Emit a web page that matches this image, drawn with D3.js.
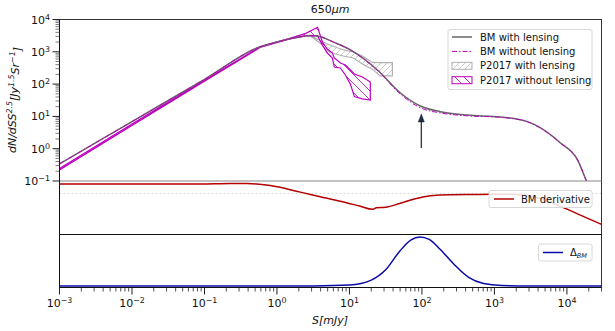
<!DOCTYPE html>
<html>
<head>
<meta charset="utf-8">
<script src="https://cdn.jsdelivr.net/npm/d3@7/dist/d3.min.js"></script>
<style>
body { margin:0; background:#fff; }
text { font-family: "DejaVu Sans", sans-serif; fill:#111; }
</style>
</head>
<body>
<div id="chart"></div>
<script>
// BM model curves (S in mJy)
var bmS      = [0.001, 0.01, 0.1, 0.59, 1.0, 1.91, 2.88, 3.96, 6.0, 10.3, 24.3, 50.5, 95, 180, 424, 1210, 2860, 4320, 8150, 14000, 18600, 25000];
var bmLens   = [0.34, 6.9, 140, 1440, 2000, 2810, 3200, 2930, 2000, 1140, 273, 53, 21, 14, 11, 9.6, 6.9, 4.4, 1.5, 0.45, 0.1, 0.02];
var bmNoLens = [0.34, 6.9, 140, 1440, 2000, 2810, 3200, 2930, 2000, 1140, 265, 49, 18.5, 12.8, 10.4, 9.4, 6.8, 4.4, 1.5, 0.45, 0.1, 0.02];

// P2017 bands
var pS   = [0.001, 0.01, 0.1, 0.6, 1.5, 2.5, 3.64, 4.23, 4.95, 5.81, 6.19, 7.49, 8.79, 10.3, 11.7, 15.1, 19.4];
var pLo  = [0.22, 5.2, 122, 1400, 2500, 3090, 3090, 1620, 918, 643, 339, 316, 191, 100, 41, 35, 32];
var pHi  = [0.245, 5.8, 135, 1450, 2600, 3720, 5740, 2010, 1220, 918, 643, 450, 390, 273, 206, 166, 116];
var gS   = [3.0, 4.09, 4.95, 6.38, 8.24, 11.3, 15.1, 20.7, 26.5, 39.1];
var gLo  = [2900, 1740, 1060, 855, 741, 643, 419, 290, 180, 180];
var gHi  = [3000, 2160, 1740, 1410, 1140, 986, 741, 470, 460, 460];

// derivative panel
var derS = [0.001, 0.0875, 0.227, 0.39, 0.81, 2.1, 3.96, 7.48, 14.1, 20.7, 23.5, 31.3, 50.4, 81, 131, 247, 640, 1660, 3140, 6520, 14000, 30000];
var derV = [1.30, 1.30, 1.37, 1.36, 1.09, 0.18, -0.45, -1.08, -1.78, -2.20, -1.99, -1.92, -1.36, -0.73, -0.31, -0.17, -0.14, -0.10, -0.31, -1.36, -2.83, -4.29];

// Delta panel
var delS = [0.001, 1, 3.16, 10, 20, 31.6, 50, 70.8, 93, 126, 178, 282, 447, 708, 1260, 3160, 30000];
var delV = [0, 0, 0.003, 0.02, 0.12, 0.33, 0.72, 0.94, 1.0, 0.95, 0.75, 0.43, 0.17, 0.05, 0.01, 0.002, 0];

var arrowS = 98, arrowFrom = 1.05, arrowTo = 11.9;

var xTicks = [1e-3, 1e-2, 1e-1, 1, 10, 100, 1000, 10000];
var xTickExp = ["−3", "−2", "−1", "0", "1", "2", "3", "4"];
var yTicks = [1e-1, 1, 10, 100, 1000, 10000];
var yTickExp = ["−1", "0", "1", "2", "3", "4"];

var W = 615, H = 331;
var left = 59.5, right = 601.5;
var top1 = 19.5, bot1 = 181, bot2 = 234.5, bot3 = 287.5;

var x = d3.scaleLog().domain([1e-3, 3e4]).range([left, right]);
var y1 = d3.scaleLog().domain([0.1, 1e4]).range([bot1, top1]);
var y2 = d3.scaleLinear().domain([-5.69, 1.72]).range([bot2, bot1]);
var y3 = d3.scaleLinear().domain([-0.03, 1.05]).range([bot3, bot2]);

var svg = d3.select("#chart").append("svg")
	.attr("width", W)
	.attr("height", H);

var defs = svg.append("defs");
function clip(id, y0, y1_) {
	defs.append("clipPath").attr("id", id).append("rect")
		.attr("x", left).attr("y", y0).attr("width", right - left).attr("height", y1_ - y0);
}
clip("c1", top1, bot1);
clip("c2", bot1, bot2);
clip("c3", bot2, bot3);

// hatch patterns
var hg = defs.append("pattern").attr("id", "hatchGray").attr("patternUnits", "userSpaceOnUse")
	.attr("width", 6).attr("height", 6);
hg.append("path").attr("d", "M-1,1 l2,-2 M0,6 l6,-6 M5,7 l2,-2").attr("stroke", "#bdbdbd").attr("stroke-width", 0.8);
var hm = defs.append("pattern").attr("id", "hatchMag").attr("patternUnits", "userSpaceOnUse")
	.attr("width", 9).attr("height", 9);
hm.append("path").attr("d", "M-1,8 l2,2 M0,0 l9,9 M8,-1 l2,2").attr("stroke", "#b000b0").attr("stroke-width", 0.8);

var gray = "#666666", mag = "#bf00bf";

// ---- panel 1
var p1 = svg.append("g").attr("clip-path", "url(#c1)");

var band = function(S, lo, hi) {
	return d3.area()
		.x(function(d, i) { return x(S[i]); })
		.y0(function(d, i) { return y1(lo[i]); })
		.y1(function(d, i) { return y1(hi[i]); })(S);
};

p1.append("path").attr("d", band(gS, gLo, gHi))
	.attr("fill", "url(#hatchGray)").attr("stroke", "#b0b0b0").attr("stroke-width", 1.2);
p1.append("path").attr("d", band(pS, pLo, pHi))
	.attr("fill", "url(#hatchMag)").attr("stroke", mag).attr("stroke-width", 1.2);

var line1 = function(S, V) {
	return d3.line()
		.x(function(d, i) { return x(S[i]); })
		.y(function(d, i) { return y1(V[i]); })
		.curve(d3.curveMonotoneX)(S);
};
p1.append("path").attr("d", line1(bmS, bmLens))
	.attr("fill", "none").attr("stroke", gray).attr("stroke-width", 1.5);
p1.append("path").attr("d", line1(bmS, bmNoLens))
	.attr("fill", "none").attr("stroke", mag).attr("stroke-width", 1).attr("stroke-dasharray", "5,2,1.5,2");

// arrow
var ax = x(arrowS);
p1.append("line").attr("x1", ax).attr("x2", ax)
	.attr("y1", y1(arrowFrom)).attr("y2", y1(arrowTo) + 5)
	.attr("stroke", "#222").attr("stroke-width", 1.2);
p1.append("path")
	.attr("d", "M" + ax + "," + y1(arrowTo) + " l-3,8 l6,0 z")
	.attr("fill", "#1c2e4a").attr("stroke", "#222").attr("stroke-width", 0.5);

// ---- panel 2
var p2 = svg.append("g").attr("clip-path", "url(#c2)");
p2.append("line").attr("x1", left).attr("x2", right)
	.attr("y1", y2(0)).attr("y2", y2(0))
	.attr("stroke", "#ccc").attr("stroke-width", 0.8).attr("stroke-dasharray", "2,2");
p2.append("path")
	.attr("d", d3.line()
		.x(function(d, i) { return x(derS[i]); })
		.y(function(d, i) { return y2(derV[i]); })
		.curve(d3.curveMonotoneX)(derS))
	.attr("fill", "none").attr("stroke", "#b40000").attr("stroke-width", 1.5);

// ---- panel 3
var p3 = svg.append("g").attr("clip-path", "url(#c3)");
p3.append("path")
	.attr("d", d3.line()
		.x(function(d, i) { return x(delS[i]); })
		.y(function(d, i) { return y3(delV[i]); })
		.curve(d3.curveMonotoneX)(delS))
	.attr("fill", "none").attr("stroke", "#0a0aa8").attr("stroke-width", 1.5);

// ---- frames
svg.append("rect").attr("x", left).attr("y", top1).attr("width", right - left).attr("height", bot3 - top1)
	.attr("fill", "none").attr("stroke", "#333").attr("stroke-width", 1);
svg.append("line").attr("x1", left).attr("x2", right).attr("y1", bot1).attr("y2", bot1)
	.attr("stroke", "#888").attr("stroke-width", 1.2);
svg.append("line").attr("x1", left).attr("x2", right).attr("y1", bot2).attr("y2", bot2)
	.attr("stroke", "#111").attr("stroke-width", 1);
svg.append("line").attr("x1", left).attr("x2", left).attr("y1", top1).attr("y2", bot3)
	.attr("stroke", "#111").attr("stroke-width", 1);
svg.append("line").attr("x1", left).attr("x2", right).attr("y1", bot3).attr("y2", bot3)
	.attr("stroke", "#111").attr("stroke-width", 1);

function supText(g, base, exp) {
	g.append("tspan").text(base);
	g.append("tspan").attr("dy", "-0.5em").attr("font-size", "0.72em").text(exp);
}

// x axis ticks
var minorX = [];
for (var e = -3; e <= 4; e++) for (var k = 2; k <= 9; k++) {
	var v = k * Math.pow(10, e);
	if (v <= 3e4) minorX.push(v);
}
svg.selectAll(".xminor").data(minorX).enter().append("line")
	.attr("x1", function(d) { return x(d); }).attr("x2", function(d) { return x(d); })
	.attr("y1", bot3).attr("y2", bot3 + 4).attr("stroke", "#222").attr("stroke-width", 0.8);
svg.selectAll(".xmajor").data(xTicks).enter().append("line")
	.attr("x1", function(d) { return x(d); }).attr("x2", function(d) { return x(d); })
	.attr("y1", bot3).attr("y2", bot3 + 7).attr("stroke", "#222").attr("stroke-width", 1);
xTicks.forEach(function(t, i) {
	var tx = svg.append("text").attr("x", x(t)).attr("y", 307)
		.attr("text-anchor", "middle").attr("font-size", 11);
	supText(tx, "10", xTickExp[i]);
});

// y axis ticks (top panel)
var minorY = [];
for (var e2 = -1; e2 < 4; e2++) for (var k2 = 2; k2 <= 9; k2++) minorY.push(k2 * Math.pow(10, e2));
svg.selectAll(".yminor").data(minorY).enter().append("line")
	.attr("x1", left - 4).attr("x2", left)
	.attr("y1", function(d) { return y1(d); }).attr("y2", function(d) { return y1(d); })
	.attr("stroke", "#444").attr("stroke-width", 0.7);
svg.selectAll(".ymajor").data(yTicks).enter().append("line")
	.attr("x1", left - 7).attr("x2", left)
	.attr("y1", function(d) { return y1(d); }).attr("y2", function(d) { return y1(d); })
	.attr("stroke", "#222").attr("stroke-width", 1);
yTicks.forEach(function(t, i) {
	var ty = svg.append("text").attr("x", 50).attr("y", y1(t) + 4)
		.attr("text-anchor", "end").attr("font-size", 11);
	supText(ty, "10", yTickExp[i]);
});

// labels
var title = svg.append("text").attr("x", 330).attr("y", 13).attr("text-anchor", "middle").attr("font-size", 11);
title.append("tspan").text("650");
title.append("tspan").attr("font-style", "italic").text("μm");

var xl = svg.append("text").attr("x", 330).attr("y", 324).attr("text-anchor", "middle")
	.attr("font-size", 11).attr("font-style", "italic");
xl.append("tspan").text("S[mJy]");

var yl = svg.append("text").attr("transform", "translate(16,100) rotate(-90)")
	.attr("text-anchor", "middle").attr("font-size", 11).attr("font-style", "italic");
yl.append("tspan").text("dN/dSS");
yl.append("tspan").attr("dy", "-0.5em").attr("font-size", "0.72em").text("2.5");
yl.append("tspan").attr("dy", "0.5em").text("[Jy");
yl.append("tspan").attr("dy", "-0.5em").attr("font-size", "0.72em").text("1.5");
yl.append("tspan").attr("dy", "0.5em").text("Sr");
yl.append("tspan").attr("dy", "-0.5em").attr("font-size", "0.72em").text("−1");
yl.append("tspan").attr("dy", "0.5em").text("]");

// legends
function legendBox(x0, y0, w, h) {
	svg.append("rect").attr("x", x0).attr("y", y0).attr("width", w).attr("height", h)
		.attr("rx", 2).attr("fill", "#fff").attr("fill-opacity", 0.85)
		.attr("stroke", "#d8d8d8").attr("stroke-width", 1);
}
legendBox(448, 29.5, 144, 60);
var lg = [
	{label: "BM with lensing", kind: "line", color: gray, dash: null},
	{label: "BM without lensing", kind: "line", color: mag, dash: "5,2,1.5,2"},
	{label: "P2017 with lensing", kind: "patch", color: "#b0b0b0", fill: "url(#hatchGray)"},
	{label: "P2017 without lensing", kind: "patch", color: mag, fill: "url(#hatchMag)"}
];
lg.forEach(function(d, i) {
	var yy = 37 + i * 14.4;
	if (d.kind == "line") {
		svg.append("line").attr("x1", 452).attr("x2", 472).attr("y1", yy).attr("y2", yy)
			.attr("stroke", d.color).attr("stroke-width", d.dash ? 1 : 1.5)
			.attr("stroke-dasharray", d.dash);
	} else {
		svg.append("rect").attr("x", 452).attr("y", yy - 3.5).attr("width", 20).attr("height", 7)
			.attr("fill", d.fill).attr("stroke", d.color).attr("stroke-width", 1);
	}
	svg.append("text").attr("x", 480).attr("y", yy + 3.5).attr("font-size", 10).text(d.label);
});

legendBox(489, 190.5, 103, 17);
svg.append("line").attr("x1", 494).attr("x2", 514).attr("y1", 199).attr("y2", 199)
	.attr("stroke", "#b40000").attr("stroke-width", 1.5);
svg.append("text").attr("x", 521).attr("y", 202.5).attr("font-size", 10).text("BM derivative");

legendBox(538.5, 244, 53.5, 17);
svg.append("line").attr("x1", 543).attr("x2", 563).attr("y1", 252.5).attr("y2", 252.5)
	.attr("stroke", "#0a0aa8").attr("stroke-width", 1.5);
var dl = svg.append("text").attr("x", 570).attr("y", 256).attr("font-size", 10);
dl.append("tspan").text("Δ");
dl.append("tspan").attr("dy", "0.3em").attr("font-size", "0.65em").attr("font-style", "italic").text("BM");
</script>
</body>
</html>
